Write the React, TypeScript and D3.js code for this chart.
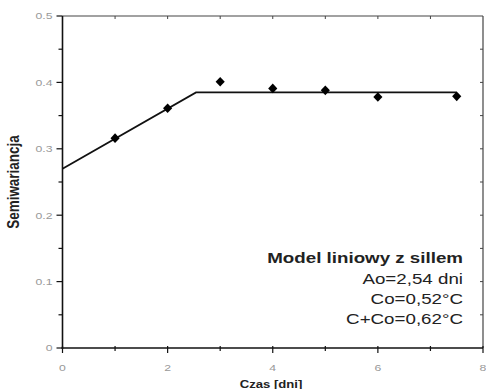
import React from "react";
import * as d3 from "d3";

const lagDays = [1, 2, 3, 4, 5, 6, 7.5];
const semivariance = [0.316, 0.361, 0.401, 0.391, 0.388, 0.378, 0.379];
const modelX = [0, 2.54, 7.5];
const modelY = [0.27, 0.385, 0.385];
const xTickLabels = [0, 2, 4, 6, 8];
const yTickLabels = [0, 0.1, 0.2, 0.3, 0.4, 0.5];
const legendLines = ["Ao=2,54 dni", "Co=0,52°C", "C+Co=0,62°C"];

const W = 486;
const H = 389;
const left = 62.5;
const right = 483;
const top = 16;
const bottom = 348;
// glyphs are drawn slightly wide
const SX = 1.25;

export default function App() {
  const x = d3.scaleLinear().domain([0, 8]).range([left, right]);
  const y = d3.scaleLinear().domain([0, 0.5]).range([bottom, top]);
  const line = d3
    .line<number>()
    .x((_, i) => x(modelX[i]))
    .y((d) => y(d));
  const marker = d3.symbol().type(d3.symbolSquare).size(42)();
  const xMinor = d3.range(0, 9);
  const yMinor = d3.range(0, 0.5001, 0.05);
  const font = "Liberation Sans, Arial, sans-serif";

  return (
    <svg
      width={W}
      height={H}
      style={{ position: "absolute", left: 0, top: 0, background: "#fff" }}
      fontFamily={font}
    >
      <rect x={0} y={0} width={W} height={H} fill="#fff" />
      {/* frame */}
      <line x1={left} x2={right} y1={top} y2={top} stroke="#444" strokeWidth={1.2} />
      <line x1={right} x2={right} y1={top} y2={bottom} stroke="#444" strokeWidth={1.2} />
      {/* top and right inward ticks */}
      {xMinor.slice(1, -1).map((t) => (
        <line key={"tt" + t} x1={x(t)} x2={x(t)} y1={top} y2={top + 3} stroke="#444" />
      ))}
      {yMinor.slice(1, -1).map((t) => (
        <line key={"rt" + t} x1={right} x2={right - 3} y1={y(t)} y2={y(t)} stroke="#444" />
      ))}
      {/* axes */}
      <line x1={left} x2={left} y1={top} y2={bottom + 1} stroke="#111" strokeWidth={1.6} />
      <line x1={left - 1} x2={right} y1={bottom} y2={bottom} stroke="#111" strokeWidth={1.6} />
      {yMinor.map((t, i) => (
        <line
          key={"yt" + i}
          x1={left - (i % 2 === 0 ? 6 : 4)}
          x2={left}
          y1={y(t)}
          y2={y(t)}
          stroke="#111"
          strokeWidth={1.2}
        />
      ))}
      {xMinor.map((t) => (
        <line
          key={"xt" + t}
          x1={x(t)}
          x2={x(t)}
          y1={bottom - 2}
          y2={bottom + (t % 2 === 0 ? 5 : 3)}
          stroke="#111"
          strokeWidth={1.2}
        />
      ))}
      {yTickLabels.map((t) => (
        <text
          key={"yl" + t}
          transform={`translate(${left - 10},${y(t)}) scale(${SX},1)`}
          dy="0.35em"
          textAnchor="end"
          fontSize={9.8}
          fill="#999"
        >
          {t === 0 ? "0" : t.toFixed(1)}
        </text>
      ))}
      {xTickLabels.map((t) => (
        <text
          key={"xl" + t}
          transform={`translate(${x(t)},${bottom + 23}) scale(${SX},1)`}
          textAnchor="middle"
          fontSize={9.8}
          fill="#999"
        >
          {t}
        </text>
      ))}
      <text
        transform={`translate(271,387.5) scale(${SX},1)`}
        textAnchor="middle"
        fontSize={10.5}
        fontWeight="bold"
        fill="#222"
      >
        Czas [dni]
      </text>
      <text
        transform={`translate(19,182) scale(${SX},1) rotate(-90)`}
        textAnchor="middle"
        fontSize={13.5}
        fontWeight="bold"
        fill="#222"
      >
        Semiwariancja
      </text>
      {/* model line */}
      <path d={line(modelY) || ""} fill="none" stroke="#111" strokeWidth={1.8} />
      {/* empirical semivariance */}
      {lagDays.map((d, i) => (
        <path
          key={"p" + i}
          d={marker || ""}
          transform={`translate(${x(d)},${y(semivariance[i])}) scale(1,1.05) rotate(45)`}
          fill="#000"
        />
      ))}
      {/* legend */}
      <text
        transform={`translate(463,263) scale(${SX},1)`}
        textAnchor="end"
        fontSize={15}
        fontWeight="bold"
        fill="#222"
      >
        Model liniowy z sillem
      </text>
      {legendLines.map((s, i) => (
        <text
          key={s}
          transform={`translate(463,${284 + i * 20}) scale(${SX},1)`}
          textAnchor="end"
          fontSize={15}
          fill="#222"
        >
          {s}
        </text>
      ))}
    </svg>
  );
}
